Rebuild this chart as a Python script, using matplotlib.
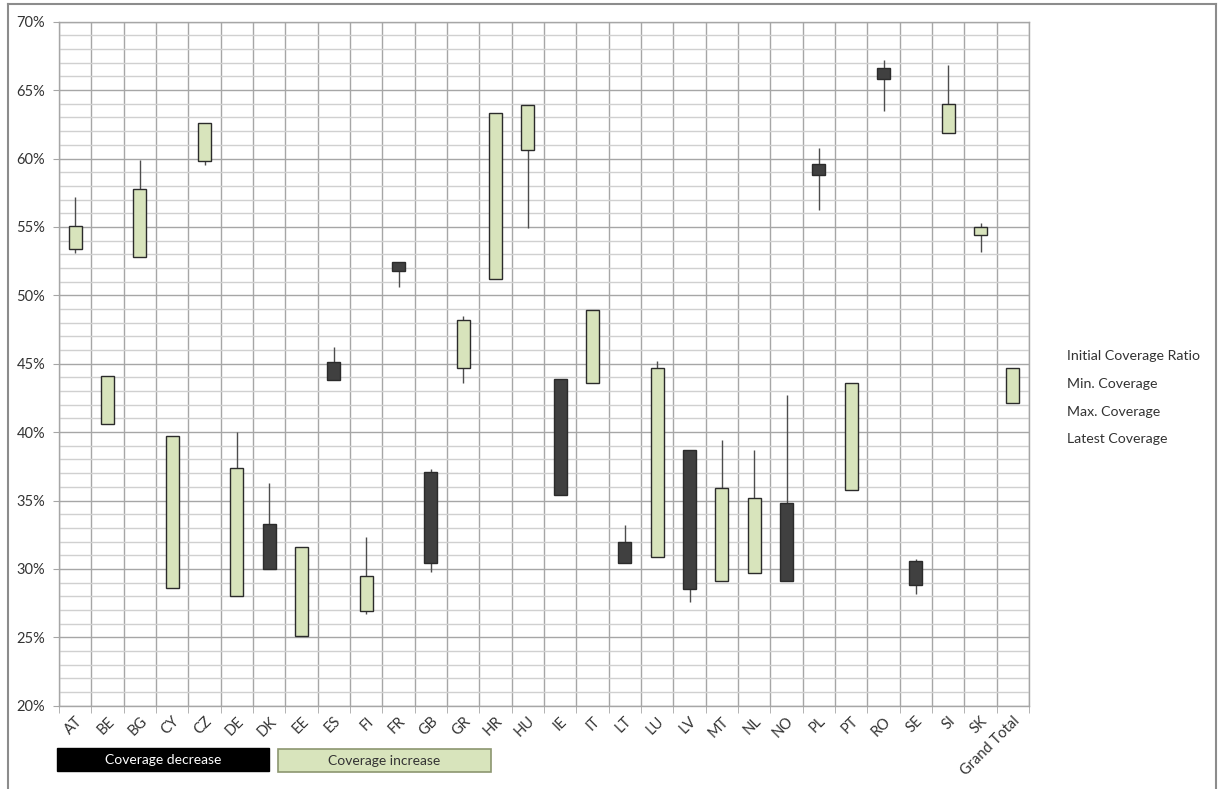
import numpy as np
import matplotlib
matplotlib.use('Agg')
import matplotlib.pyplot as plt
from matplotlib.patches import Rectangle
from matplotlib.lines import Line2D
from matplotlib.ticker import MultipleLocator, FixedLocator

plt.rcParams['font.family'] = ['Lato', 'DejaVu Sans']

# Dane (w %)
countries = ['AT', 'BE', 'BG', 'CY', 'CZ', 'DE', 'DK', 'EE', 'ES', 'FI', 'FR', 'GB', 'GR', 'HR', 'HU',
             'IE', 'IT', 'LT', 'LU', 'LV', 'MT', 'NL', 'NO', 'PL', 'PT', 'RO', 'SE', 'SI', 'SK', 'Grand Total']
initial = [53.4, 40.6, 52.8, 28.6, 59.8, 28.0, 33.3, 25.1, 45.1, 26.9, 52.4, 37.1, 44.7, 51.2, 60.6,
           43.9, 43.6, 32.0, 30.9, 38.7, 29.1, 29.7, 34.8, 59.6, 35.8, 66.6, 30.6, 61.9, 54.4, 42.1]
min_cov = [53.1, 40.6, 52.8, 28.6, 59.5, 28.0, 30.0, 25.1, 43.8, 26.7, 50.6, 29.8, 43.6, 51.2, 54.9,
           35.4, 43.6, 30.4, 30.9, 27.6, 29.1, 29.7, 29.1, 56.2, 35.8, 63.5, 28.2, 61.9, 53.2, 42.1]
max_cov = [57.2, 44.1, 59.9, 39.7, 62.6, 40.0, 36.3, 31.6, 46.2, 32.3, 52.4, 37.3, 48.5, 63.3, 63.9,
           43.9, 48.9, 33.2, 45.2, 38.7, 39.4, 38.7, 42.7, 60.8, 43.6, 67.2, 30.7, 66.8, 55.3, 44.7]
latest = [55.1, 44.1, 57.8, 39.7, 62.6, 37.4, 30.0, 31.6, 43.8, 29.5, 51.8, 30.4, 48.2, 63.3, 63.9,
          35.4, 48.9, 30.4, 44.7, 28.5, 35.9, 35.2, 29.1, 58.8, 43.6, 65.8, 28.8, 64.0, 55.0, 44.7]

legend_items = ['Initial Coverage Ratio', 'Min. Coverage', 'Max. Coverage', 'Latest Coverage']

green = '#D8E4BC'
dark = '#404040'
grid_col = '#A6A6A6'
txt_col = '#333333'

W, H = 1218, 789
fig = plt.figure(figsize=(W / 100, H / 100), dpi=100)
ax = fig.add_axes([59 / W, 1 - 705.7 / H, (1029 - 59) / W, (705.7 - 21.7) / H])

x = np.arange(len(countries))
ini = np.array(initial)
lat = np.array(latest)

# Knoty (min - max)
ax.vlines(x, min_cov, max_cov, color='#4d4d4d', linewidth=1.0, zorder=3)

# Korpusy świec
body_bottom = np.minimum(ini, lat)
body_height = np.abs(lat - ini)
colors = [green if l >= i else dark for i, l in zip(ini, lat)]
ax.bar(x, body_height, bottom=body_bottom, width=0.4, color=colors,
       edgecolor='#2b2b2b', linewidth=1.0, zorder=4)

ax.set_xlim(-0.5, len(countries) - 0.5)
ax.set_ylim(20, 70)

# Siatka
ax.yaxis.set_major_locator(MultipleLocator(5))
ax.yaxis.set_minor_locator(MultipleLocator(1))
ax.set_yticklabels([f'{int(v)}%' for v in ax.get_yticks()])
ax.grid(which='major', axis='y', color=grid_col, linewidth=1.0, zorder=0)
ax.grid(which='minor', axis='y', color='#D0D0D0', linewidth=1.0, zorder=0)

ax.set_xticks(x)
ax.set_xticklabels(countries, rotation=45, ha='right', rotation_mode='anchor')
ax.xaxis.set_minor_locator(FixedLocator(np.arange(-0.5, len(countries), 1.0)))
ax.grid(which='minor', axis='x', color=grid_col, linewidth=1.0, zorder=1)
ax.tick_params(axis='x', which='major', length=0, pad=6, labelsize=10.5, labelcolor=txt_col)
ax.tick_params(axis='x', which='minor', length=5, color=grid_col, direction='out')
ax.tick_params(axis='y', which='major', length=4, color=grid_col, pad=6, labelsize=10.5, labelcolor=txt_col)
ax.tick_params(axis='y', which='minor', length=0)

for s in ax.spines.values():
    s.set_color(grid_col)
    s.set_linewidth(1.0)

# Legenda tekstowa po prawej
for txt, yp in zip(legend_items, [356, 384.3, 411.7, 438.7]):
    fig.text(1066.7 / W, 1 - yp / H, txt, fontsize=10.2, color=txt_col, va='center', ha='left')

# Prostokąty opisu pod osią
fig.add_artist(Rectangle((57 / W, 1 - 770.7 / H), (269 - 57) / W, (770.7 - 748.3) / H,
                         transform=fig.transFigure, facecolor='black', edgecolor='black', linewidth=1))
fig.text((57 + 269) / 2 / W, 1 - 759.5 / H, 'Coverage decrease', color='white', fontsize=10,
         ha='center', va='center')
fig.add_artist(Rectangle((278 / W, 1 - 772 / H), (491 - 278) / W, (772 - 749.3) / H,
                         transform=fig.transFigure, facecolor=green, edgecolor='#8c9670', linewidth=1.2))
fig.text((278 + 491) / 2 / W, 1 - 760.6 / H, 'Coverage increase', color=txt_col, fontsize=10,
         ha='center', va='center')

# Ramka obszaru wykresu
for xs, ys in [([8, 1216], [4.3, 4.3]), ([8, 8], [4.3, 789]), ([1216, 1216], [4.3, 789])]:
    fig.add_artist(Line2D([v / W for v in xs], [1 - v / H for v in ys],
                          transform=fig.transFigure, color='#8c8c8c', linewidth=1.5))

plt.savefig('out.png', dpi=100)
